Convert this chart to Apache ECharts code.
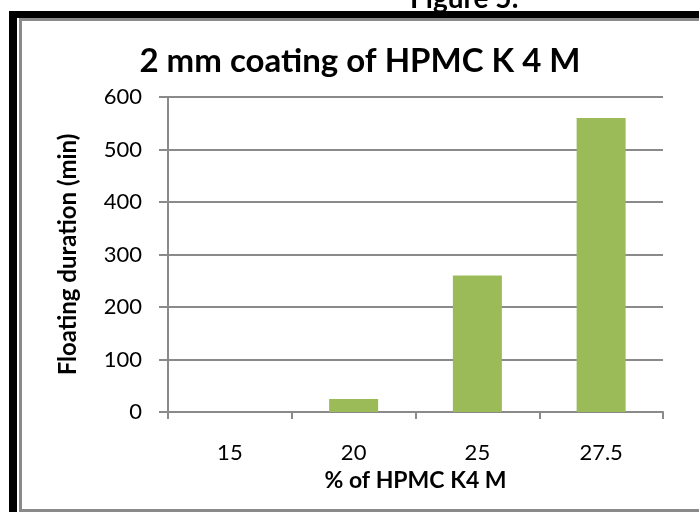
<!DOCTYPE html>
<html>
<head>
<meta charset="utf-8">
<script src="https://cdn.jsdelivr.net/npm/echarts@6/dist/echarts.min.js"></script>
<style>
html,body{margin:0;padding:0;background:#fff;}
#c{width:699px;height:512px;}
</style>
</head>
<body>
<div id="c"></div>
<script>
var categories = ['15', '20', '25', '27.5'];
var floatingMinutes = [0, 25, 260, 560];
var yTicks = [0, 100, 200, 300, 400, 500, 600];

var FONT = 'Lato';
var chart = echarts.init(document.getElementById('c'), null, {renderer: 'canvas'});
chart.setOption({
  animation: false,
  backgroundColor: '#ffffff',
  title: {
    text: '2 mm coating of HPMC K 4 M',
    left: 355,
    textAlign: 'center',
    top: 40,
    textStyle: {fontFamily: FONT, fontWeight: 'bold', fontSize: 33, color: '#000'}
  },
  grid: {left: 168, right: 36, top: 97, bottom: 100, containLabel: false},
  xAxis: {
    type: 'category',
    data: categories,
    name: '% of HPMC K4 M',
    nameLocation: 'middle',
    nameGap: 57,
    nameTextStyle: {fontFamily: FONT, fontWeight: 'bold', fontSize: 23, color: '#000'},
    axisLine: {lineStyle: {color: '#8a8a8a', width: 2}},
    axisTick: {show: true, length: 7, lineStyle: {color: '#8a8a8a', width: 2}},
    axisLabel: {fontFamily: FONT, fontSize: 22, color: '#000', margin: 30},
    splitLine: {show: false}
  },
  yAxis: {
    type: 'value',
    min: yTicks[0],
    max: yTicks[yTicks.length - 1],
    interval: 100,
    name: 'Floating duration (min)',
    nameLocation: 'middle',
    nameGap: 88,
    nameTextStyle: {fontFamily: FONT, fontWeight: 'bold', fontSize: 24, color: '#000'},
    axisLine: {show: true, lineStyle: {color: '#8a8a8a', width: 2}},
    axisTick: {show: true, length: 9, lineStyle: {color: '#8a8a8a', width: 2}},
    axisLabel: {fontFamily: FONT, fontSize: 22, color: '#000', margin: 26},
    splitLine: {show: true, lineStyle: {color: '#8a8a8a', width: 2}}
  },
  series: [{
    type: 'bar',
    data: floatingMinutes,
    barWidth: 49,
    itemStyle: {color: '#9BBB59'}
  }],
  graphic: [
    {type: 'rect', shape: {x: 9, y: 11, width: 8, height: 501}, style: {fill: '#000'}, z: 100},
    {type: 'rect', shape: {x: 9, y: 11, width: 690, height: 7}, style: {fill: '#000'}, z: 100},
    {type: 'line', shape: {x1: 20.5, y1: 19, x2: 20.5, y2: 512}, style: {stroke: '#8a8a8a', lineWidth: 3}, z: 100},
    {type: 'line', shape: {x1: 19, y1: 19.5, x2: 699, y2: 19.5}, style: {stroke: '#8a8a8a', lineWidth: 3}, z: 100},
    {type: 'line', shape: {x1: 19, y1: 510.5, x2: 699, y2: 510.5}, style: {stroke: '#8a8a8a', lineWidth: 3}, z: 100},
    {type: 'text', left: 410, top: -15, style: {text: 'Figure 5:', font: 'bold 28px Lato', fill: '#000'}, z: 99}
  ]
});
</script>
</body>
</html>
